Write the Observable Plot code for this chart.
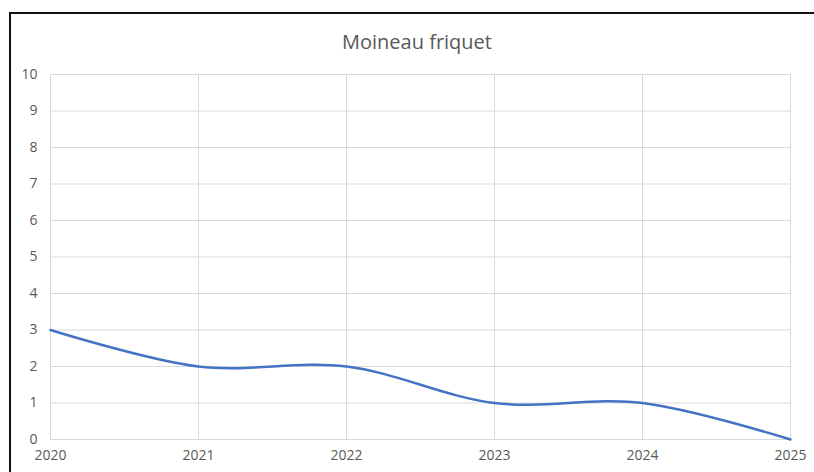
<!DOCTYPE html>
<html>
<head>
<meta charset="utf-8">
<script src="https://cdn.jsdelivr.net/npm/d3@7"></script>
<script src="https://cdn.jsdelivr.net/npm/@observablehq/plot@0.6"></script>
<style>
  html, body { margin: 0; padding: 0; background: #fff; }
  #wrap { position: relative; width: 814px; height: 472px; overflow: hidden; }
  #frame { position: absolute; left: 9px; top: 12px; width: 900px; height: 600px;
           border-top: 2px solid #111; border-left: 2px solid #111; box-sizing: border-box; }
  #title { position: absolute; left: 0; top: 28px; width: 834px; text-align: center;
           font-family: "Open Sans", "Liberation Sans", sans-serif; font-size: 20px; color: #595959; }
  #chart { position: absolute; left: 0; top: 0; }
</style>
</head>
<body>
<div id="wrap">
  <div id="chart"></div>
  <div id="frame"></div>
  <div id="title">Moineau friquet</div>
</div>
<script>
const years = [2020, 2021, 2022, 2023, 2024, 2025];
const counts = [3, 2, 2, 1, 1, 0];
const yTicks = [0, 1, 2, 3, 4, 5, 6, 7, 8, 9, 10];

const data = years.map((y, i) => ({year: y, count: counts[i]}));

const chart = Plot.plot({
  width: 814,
  height: 472,
  marginLeft: 50,
  marginRight: 24,
  marginTop: 74,
  marginBottom: 33,
  style: {fontFamily: "'Open Sans', 'Liberation Sans', sans-serif", fontSize: "14px", color: "#595959", background: "transparent"},
  x: {domain: [2020, 2025], ticks: years, tickFormat: "d", label: null},
  y: {domain: [0, 10], ticks: yTicks, label: null},
  marks: [
    Plot.gridX(years, {stroke: "#d9d9d9", strokeOpacity: 1, strokeWidth: 1}),
    Plot.gridY(yTicks, {stroke: "#d9d9d9", strokeOpacity: 1, strokeWidth: 1}),
    Plot.axisX(years, {tickSize: 0, tickPadding: 11, tickFormat: "d", fill: "#595959", fontSize: 14, label: null}),
    Plot.axisY(yTicks, {tickSize: 0, tickPadding: 13, fill: "#595959", fontSize: 14, label: null}),
    Plot.line(data, {x: "year", y: "count", stroke: "#4472C4", strokeWidth: 2.5, curve: "catmull-rom"})
  ]
});
document.getElementById("chart").appendChild(chart);
</script>
</body>
</html>
